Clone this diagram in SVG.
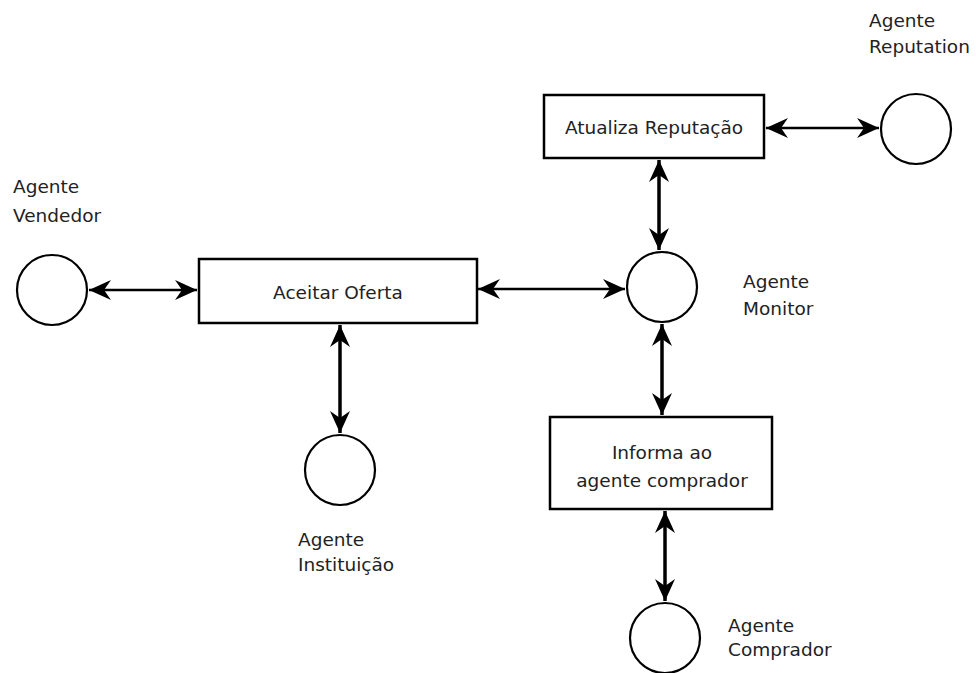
<svg xmlns="http://www.w3.org/2000/svg" width="976" height="673" viewBox="0 0 976 673">
<style>
.box{fill:#fff;stroke:#000;stroke-width:2.5}
.agent{fill:#fff;stroke:#000;stroke-width:2.2}
.lbl{font-family:"DejaVu Sans",Verdana,sans-serif;font-size:18.5px;fill:#222}
.btxt{font-family:"DejaVu Sans",Verdana,sans-serif;font-size:18.5px;fill:#222;text-anchor:middle}
.conn{stroke:#000;stroke-width:2.6;fill:none;marker-start:url(#ah);marker-end:url(#ah)}
.thick{stroke-width:3.5}
</style>
<defs>
<marker id="ah" markerUnits="userSpaceOnUse" markerWidth="24" markerHeight="22" refX="22" refY="10" orient="auto-start-reverse">
<path d="M0,0 L22,10 L0,20 L7,10 z" fill="#000"/>
</marker>
</defs>
<rect width="976" height="673" fill="#fff"/>
<g id="connectors">
<line class="conn" x1="89" y1="290" x2="197" y2="290"/>
<line class="conn" x1="478" y1="289" x2="625" y2="289"/>
<line class="conn" x1="766" y1="128" x2="879" y2="128"/>
<line class="conn thick" x1="659" y1="160" x2="659" y2="250"/>
<line class="conn thick" x1="340" y1="325" x2="340" y2="433"/>
<line class="conn thick" x1="662" y1="324" x2="662" y2="415"/>
<line class="conn thick" x1="665" y1="511" x2="665" y2="601"/>
</g>
<g id="aceitar-oferta">
<rect class="box" x="199" y="259" width="278" height="64"/>
<text class="btxt" x="338" y="299">Aceitar Oferta</text>
</g>
<g id="atualiza-reputacao">
<rect class="box" x="544" y="95" width="220" height="63"/>
<text class="btxt" x="654" y="134">Atualiza Reputação</text>
</g>
<g id="informa-comprador">
<rect class="box" x="550" y="417" width="222" height="92"/>
<text class="btxt" x="662" y="459">Informa ao</text>
<text class="btxt" x="662" y="487">agente comprador</text>
</g>
<g id="agente-vendedor">
<circle class="agent" cx="52" cy="290" r="35"/>
<text class="lbl" x="13" y="193">Agente</text>
<text class="lbl" x="13" y="222">Vendedor</text>
</g>
<g id="agente-reputation">
<circle class="agent" cx="916" cy="129" r="35"/>
<text class="lbl" x="869" y="27">Agente</text>
<text class="lbl" x="869" y="53">Reputation</text>
</g>
<g id="agente-monitor">
<circle class="agent" cx="662" cy="287" r="35"/>
<text class="lbl" x="743" y="288">Agente</text>
<text class="lbl" x="743" y="315">Monitor</text>
</g>
<g id="agente-instituicao">
<circle class="agent" cx="340" cy="470" r="35"/>
<text class="lbl" x="298" y="546">Agente</text>
<text class="lbl" x="298" y="571">Instituição</text>
</g>
<g id="agente-comprador">
<circle class="agent" cx="665" cy="638" r="35"/>
<text class="lbl" x="728" y="632">Agente</text>
<text class="lbl" x="728" y="656">Comprador</text>
</g>
</svg>
